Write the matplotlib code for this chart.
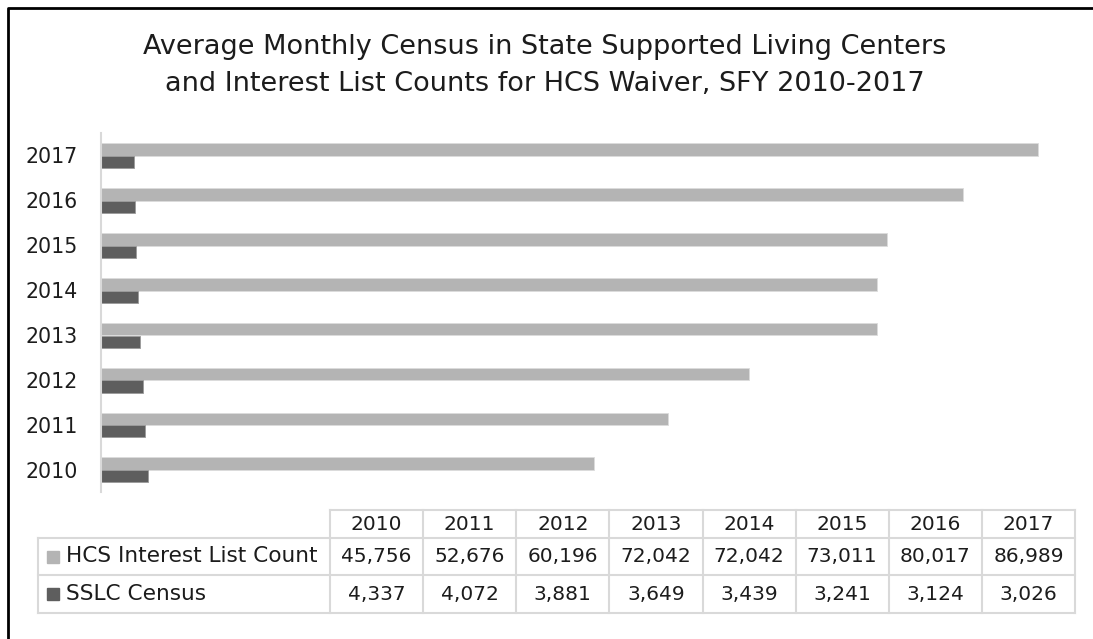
import numpy as np
import matplotlib
matplotlib.use("Agg")
import matplotlib.pyplot as plt
from matplotlib.lines import Line2D
from matplotlib.patches import Rectangle

years = ["2010", "2011", "2012", "2013", "2014", "2015", "2016", "2017"]
hcs_counts = [45756, 52676, 60196, 72042, 72042, 73011, 80017, 86989]
sslc_census = [4337, 4072, 3881, 3649, 3439, 3241, 3124, 3026]
series_names = ["HCS Interest List Count", "SSLC Census"]
series_colors = ["#b4b4b4", "#5e5e5e"]

W, H = 1093, 639
plt.rcParams['font.family'] = ['DejaVu Sans']
txt_c = "#1c1c1c"

fig = plt.figure(figsize=(W / 100, H / 100), dpi=100)


def fx(px):
    return px / W


def fy(py):
    return 1 - py / H


# bar area
ax = fig.add_axes([fx(101), fy(492), fx(1070) - fx(101), fy(133) - fy(492)])
pos = np.arange(len(years))
ax.barh(pos + 0.13, hcs_counts, height=0.28, color=series_colors[0],
        edgecolor="#dcdcdc", linewidth=0.6)
ax.barh(pos - 0.15, sslc_census, height=0.27, color=series_colors[1],
        edgecolor="#9a9a9a", linewidth=0.6)
ax.set_xlim(0, 90000)
ax.set_ylim(-0.5, len(years) - 0.5)
ax.set_yticks(pos)
ax.set_yticklabels(years, fontsize=14.8, color=txt_c)
ax.tick_params(axis="y", length=0, pad=17)
ax.set_xticks([])
for s in ["top", "right", "bottom"]:
    ax.spines[s].set_visible(False)
ax.spines["left"].set_color("#d9d9d9")
ax.spines["left"].set_linewidth(1.5)

# title
fig.text(fx(545), fy(47), "Average Monthly Census in State Supported Living Centers",
         ha="center", va="center", fontsize=19.5, color=txt_c)
fig.text(fx(545), fy(84), "and Interest List Counts for HCS Waiver, SFY 2010-2017",
         ha="center", va="center", fontsize=19.5, color=txt_c)

# data table
grid_c = "#d9d9d9"
col0, col_w = 330, (1075 - 330) / len(years)
rows_y = [510, 538, 575, 613]
label_left = 38


def hline(x0, x1, y):
    fig.add_artist(Line2D([fx(x0), fx(x1)], [fy(y), fy(y)], color=grid_c, lw=1.5))


def vline(x, y0, y1):
    fig.add_artist(Line2D([fx(x), fx(x)], [fy(y0), fy(y1)], color=grid_c, lw=1.5))


hline(col0, 1075, rows_y[0])
for y in rows_y[1:]:
    hline(label_left, 1075, y)
vline(label_left, rows_y[1], rows_y[3])
for k in range(len(years) + 1):
    vline(col0 + k * col_w, rows_y[0], rows_y[3])

for k, yr in enumerate(years):
    cx = col0 + (k + 0.5) * col_w
    fig.text(fx(cx), fy((rows_y[0] + rows_y[1]) / 2), yr, ha="center", va="center",
             fontsize=14.5, color=txt_c)
    fig.text(fx(cx), fy((rows_y[1] + rows_y[2]) / 2), f"{hcs_counts[k]:,}", ha="center",
             va="center", fontsize=14.5, color=txt_c)
    fig.text(fx(cx), fy((rows_y[2] + rows_y[3]) / 2), f"{sslc_census[k]:,}", ha="center",
             va="center", fontsize=14.5, color=txt_c)

for i, name in enumerate(series_names):
    cy = (rows_y[i + 1] + rows_y[i + 2]) / 2
    fig.add_artist(Rectangle((fx(47), fy(cy + 6)), fx(12), fy(0) - fy(12),
                             color=series_colors[i], transform=fig.transFigure))
    fig.text(fx(66), fy(cy), name, ha="left", va="center", fontsize=15.6, color=txt_c)

# outer frame (cropped chart border)
fig.add_artist(Line2D([fx(8), fx(8), fx(W)], [fy(H), fy(8), fy(8)], color="black", lw=2))

fig.savefig("out.png", dpi=100)
